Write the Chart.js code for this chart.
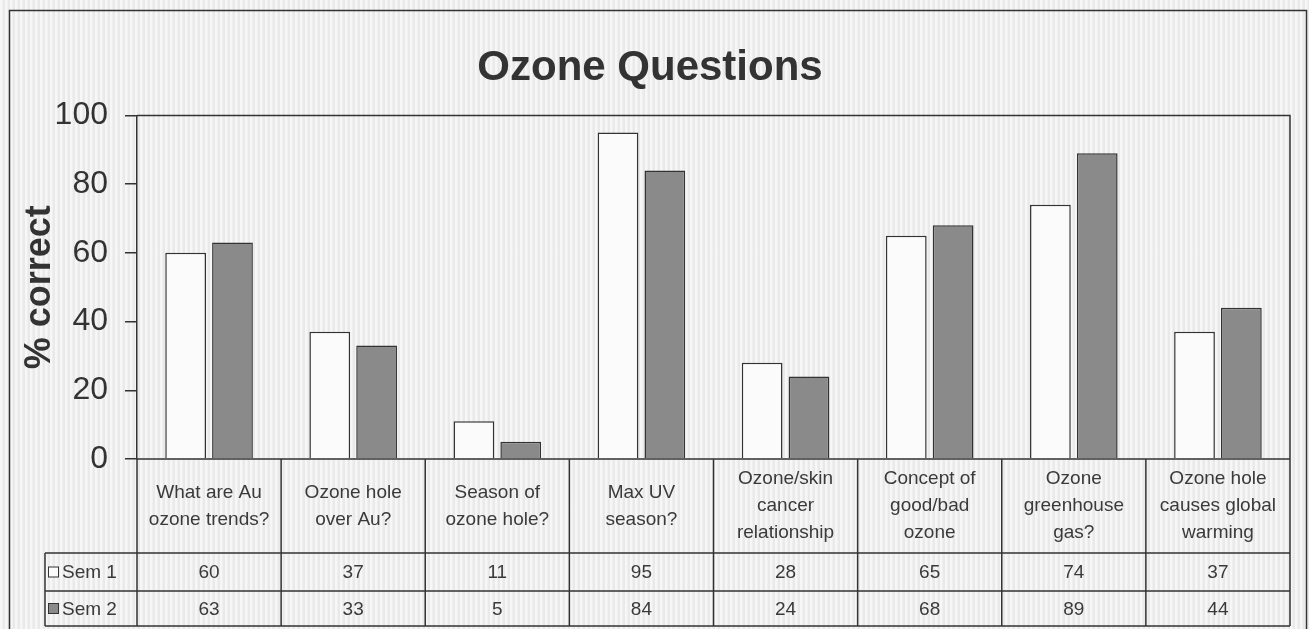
<!DOCTYPE html>
<html>
<head>
<meta charset="utf-8">
<script src="https://cdn.jsdelivr.net/npm/chart.js@4"></script>
<style>
  html, body { margin: 0; padding: 0; }
  body {
    background-color: #eeeeee;
    background-image: repeating-linear-gradient(90deg, rgba(255,255,255,0.5) 0px, rgba(255,255,255,0.5) 2px, rgba(0,0,0,0.02) 3px, rgba(0,0,0,0.02) 5px);
  }
  .chart-wrap { position: relative; width: 1309px; height: 629px; }
</style>
</head>
<body>
<div class="chart-wrap"><canvas id="ozoneChart"></canvas></div>
<script>
const categories = [
  ['What are Au', 'ozone trends?'],
  ['Ozone hole', 'over Au?'],
  ['Season of', 'ozone hole?'],
  ['Max UV', 'season?'],
  ['Ozone/skin', 'cancer', 'relationship'],
  ['Concept of', 'good/bad', 'ozone'],
  ['Ozone', 'greenhouse', 'gas?'],
  ['Ozone hole', 'causes global', 'warming']
];
const seriesNames = ['Sem 1', 'Sem 2'];
const sem1 = [60, 37, 11, 95, 28, 65, 74, 37];
const sem2 = [63, 33, 5, 84, 24, 68, 89, 44];
const yTicks = [0, 20, 40, 60, 80, 100];

const ink = '#333333';
const fills = ['#fbfbfb', '#8a8a8a'];
const fontFamily = '"Liberation Sans", Arial, sans-serif';

// data table under the plot, placed from the x scale
const dataTable = {
  id: 'dataTable',
  afterDraw(chart) {
    const { ctx, chartArea: area, scales: { x } } = chart;
    const colW = x.width / categories.length;
    const top = area.bottom;
    const headBottom = 553, row1Bottom = 591, row2Bottom = 626;
    const legendLeft = 45;
    ctx.save();
    ctx.strokeStyle = ink;
    ctx.lineWidth = 1.5;

    // plot box top + right
    ctx.beginPath();
    ctx.moveTo(area.left, area.top); ctx.lineTo(area.right, area.top);
    ctx.lineTo(area.right, area.bottom);
    ctx.stroke();

    // table grid
    ctx.beginPath();
    ctx.moveTo(area.left, top); ctx.lineTo(area.right, top);
    [headBottom, row1Bottom, row2Bottom].forEach((y) => { ctx.moveTo(legendLeft, y); ctx.lineTo(area.right, y); });
    for (let i = 0; i <= categories.length; i++) {
      const xx = x.left + i * colW;
      ctx.moveTo(xx, top); ctx.lineTo(xx, row2Bottom);
    }
    ctx.moveTo(legendLeft, headBottom); ctx.lineTo(legendLeft, row2Bottom);
    ctx.stroke();

    ctx.fillStyle = '#3a3a3a';
    ctx.font = '19px ' + fontFamily;
    ctx.textAlign = 'center';
    ctx.textBaseline = 'middle';
    const lh = 27;
    categories.forEach((lines, i) => {
      const cx = x.getPixelForValue(i);
      const cy = (top + headBottom) / 2;
      lines.forEach((t, k) => ctx.fillText(t, cx, cy + (k - (lines.length - 1) / 2) * lh));
    });
    const rows = [[sem1, (headBottom + row1Bottom) / 2], [sem2, (row1Bottom + row2Bottom) / 2]];
    rows.forEach(([vals, cy]) => {
      vals.forEach((v, i) => ctx.fillText(String(v), x.getPixelForValue(i), cy + 1));
    });

    // legend keys
    ctx.textAlign = 'left';
    rows.forEach(([, cy], r) => {
      ctx.fillStyle = fills[r];
      ctx.fillRect(48.5, cy - 5, 10, 10);
      ctx.lineWidth = 1;
      ctx.strokeRect(48.5, cy - 5, 10, 10);
      ctx.fillStyle = '#3a3a3a';
      ctx.fillText(seriesNames[r], 62, cy + 1);
    });

    // outer frame
    ctx.lineWidth = 1.5;
    ctx.strokeRect(9.5, 10.5, 1297, 640);
    ctx.restore();
  }
};

new Chart(document.getElementById('ozoneChart'), {
  type: 'bar',
  data: {
    labels: categories,
    datasets: [
      { label: seriesNames[0], data: sem1, backgroundColor: fills[0], borderColor: ink, borderWidth: 1.5 },
      { label: seriesNames[1], data: sem2, backgroundColor: fills[1], borderColor: ink, borderWidth: 1.5 }
    ]
  },
  options: {
    responsive: true,
    maintainAspectRatio: false,
    animation: false,
    categoryPercentage: 0.65,
    barPercentage: 0.87,
    layout: { padding: { left: 10, right: 19, top: 0, bottom: 0 } },
    plugins: {
      legend: { display: false },
      tooltip: { enabled: false },
      title: {
        display: true,
        text: 'Ozone Questions',
        color: ink,
        font: { family: fontFamily, size: 42, weight: 'bold' },
        padding: { top: 43, bottom: 22 }
      }
    },
    scales: {
      x: {
        ticks: { display: false },
        grid: { display: false },
        border: { display: false },
        afterFit: (scale) => { scale.height = 170; }
      },
      y: {
        min: 0,
        max: 100,
        afterBuildTicks: (scale) => { scale.ticks = yTicks.map((v) => ({ value: v })); },
        ticks: { color: ink, padding: 17, font: { family: fontFamily, size: 32 } },
        grid: { drawOnChartArea: false, drawTicks: true, tickLength: 12, color: ink, lineWidth: 1.5 },
        border: { display: true, color: ink, width: 1.5 },
        title: {
          display: true,
          text: '% correct',
          color: ink,
          font: { family: fontFamily, size: 36, weight: 'bold' },
          padding: { top: 8, bottom: 0 }
        },
        afterFit: (scale) => { scale.width = 127; }
      }
    }
  },
  plugins: [dataTable]
});
</script>
</body>
</html>
